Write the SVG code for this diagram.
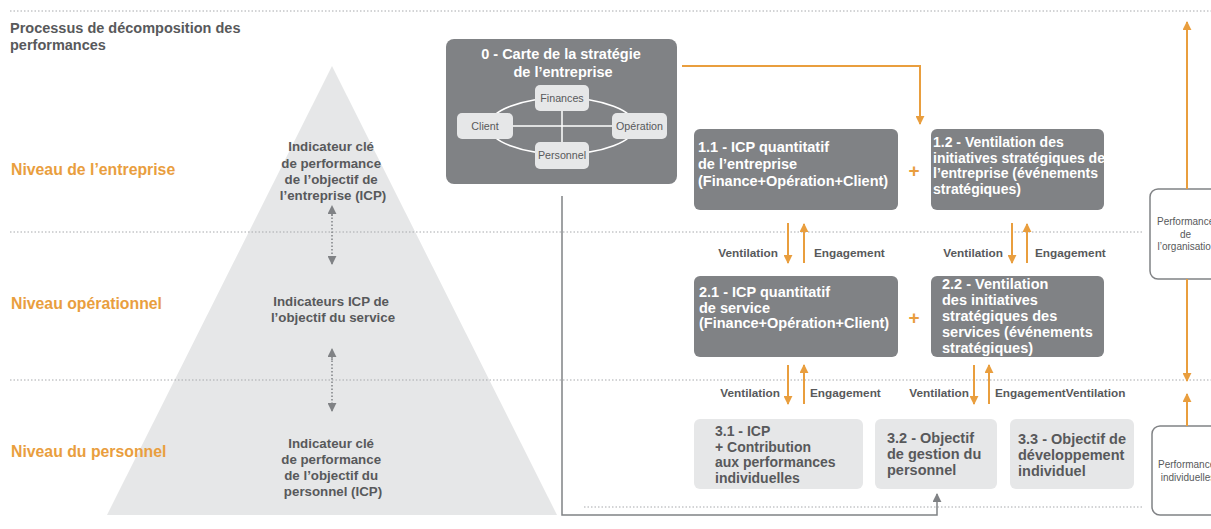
<svg xmlns="http://www.w3.org/2000/svg" width="1211" height="529" viewBox="0 0 1211 529">
<defs>
<style>
.t{font-family:"Liberation Sans",Arial,sans-serif;font-weight:bold;fill:#58595b}
.w{font-family:"Liberation Sans",Arial,sans-serif;font-weight:bold;fill:#ffffff}
.n{font-family:"Liberation Sans",Arial,sans-serif;fill:#58595b}
.lvl{font-family:"Liberation Sans",Arial,sans-serif;font-weight:bold;fill:#e99e3e;font-size:15.8px}
.dot{stroke:#a7a9ac;stroke-width:1;stroke-dasharray:1.5 2;fill:none}
.dark{fill:#808285}
.light{fill:#e6e7e8}
.or{stroke:#e99e3e;stroke-width:2;fill:none}
.gr{stroke:#808285;stroke-width:1.5;fill:none}
.gd{stroke:#808285;stroke-width:1.5;stroke-dasharray:1.5 2;fill:none}
.lab{font-family:"Liberation Sans",Arial,sans-serif;font-weight:bold;fill:#58595b;font-size:11.8px}
.plus{font-family:"Liberation Sans",Arial,sans-serif;font-weight:bold;fill:#e99e3e;font-size:19px}
</style>
<marker id="ao" viewBox="0 0 10 10" refX="9" refY="5" markerWidth="4.5" markerHeight="4.5" orient="auto"><path d="M0,0 L10,5 L0,10 Z" fill="#e99e3e"/></marker>
<marker id="ag" viewBox="0 0 10 10" refX="9" refY="5" markerWidth="6" markerHeight="6" orient="auto"><path d="M0,0 L10,5 L0,10 Z" fill="#808285"/></marker>
</defs>
<rect width="1211" height="529" fill="#ffffff"/>

<!-- pyramid -->
<g id="pyramid">
<polygon points="332,66 557,515 107,515" fill="#e6e7e8"/>
<text class="t" font-size="13.3" text-anchor="middle">
<tspan x="333" y="151">Indicateur clé</tspan>
<tspan x="333" y="167.5">de performance</tspan>
<tspan x="333" y="184">de l’objectif de</tspan>
<tspan x="333" y="200">l’entreprise (ICP)</tspan>
</text>
<text class="t" font-size="13.3" text-anchor="middle">
<tspan x="333" y="306">Indicateurs ICP de</tspan>
<tspan x="333" y="322">l’objectif du service</tspan>
</text>
<text class="t" font-size="13.3" text-anchor="middle">
<tspan x="333" y="448">Indicateur clé</tspan>
<tspan x="333" y="464">de performance</tspan>
<tspan x="333" y="480">de l’objectif du</tspan>
<tspan x="333" y="496">personnel (ICP)</tspan>
</text>
</g>

<!-- dotted level lines -->
<g id="gridlines">
<line class="dot" x1="10" y1="11" x2="1211" y2="11"/>
<line class="dot" x1="10" y1="232" x2="1144" y2="232"/>
<line class="dot" x1="10" y1="380" x2="1211" y2="380"/>
<line class="dot" x1="584" y1="507" x2="1144" y2="507"/>
</g>

<!-- title and level labels -->
<g id="title">
<text class="t" font-size="14.5" x="10" y="33">Processus de décomposition des</text>
<text class="t" font-size="14.5" x="10" y="50">performances</text>
</g>
<g id="levels">
<text class="lvl" x="11" y="175">Niveau de l’entreprise</text>
<text class="lvl" x="11" y="309">Niveau opérationnel</text>
<text class="lvl" x="11" y="457">Niveau du personnel</text>
</g>

<!-- card 0 -->
<g id="node0">
<rect class="dark" x="446" y="39" width="231" height="145" rx="8"/>
<text class="w" font-size="14.5" text-anchor="middle">
<tspan x="563" y="59">0 - Carte de la stratégie</tspan>
<tspan x="563" y="77">de l’entreprise</tspan>
</text>
<ellipse cx="562" cy="126" rx="73" ry="28" fill="none" stroke="#ffffff" stroke-width="1.5"/>
<line x1="485" y1="126" x2="640" y2="126" stroke="#ffffff" stroke-width="1.5"/>
<line x1="562" y1="98" x2="562" y2="155" stroke="#ffffff" stroke-width="1.5"/>
<rect class="light" x="535" y="85" width="54" height="26" rx="5"/>
<rect class="light" x="457" y="113" width="56" height="26" rx="5"/>
<rect class="light" x="612" y="113" width="55" height="26" rx="5"/>
<rect class="light" x="535" y="142" width="54" height="27" rx="5"/>
<text class="n" font-size="10.7" text-anchor="middle" x="562" y="101.5">Finances</text>
<text class="n" font-size="10.7" text-anchor="middle" x="485" y="129.5">Client</text>
<text class="n" font-size="10.7" text-anchor="middle" x="639.5" y="129.5">Opération</text>
<text class="n" font-size="10.7" text-anchor="middle" x="562" y="159">Personnel</text>
</g>

<!-- level 1 -->
<g id="node11">
<rect class="dark" x="694" y="129" width="204" height="81" rx="6"/>
<text class="w" font-size="14.5">
<tspan x="698" y="152">1.1 - ICP quantitatif</tspan>
<tspan x="698" y="169">de l’entreprise</tspan>
<tspan x="698" y="186">(Finance+Opération+Client)</tspan>
</text>
</g>
<g id="node12">
<rect class="dark" x="931" y="129" width="173" height="81" rx="6"/>
<text class="w" font-size="14">
<tspan x="933" y="147">1.2 - Ventilation des</tspan>
<tspan x="933" y="162.5">initiatives stratégiques de</tspan>
<tspan x="933" y="178">l’entreprise (événements</tspan>
<tspan x="933" y="194">stratégiques)</tspan>
</text>
</g>

<!-- level 2 -->
<g id="node21">
<rect class="dark" x="694" y="276" width="204" height="81" rx="6"/>
<text class="w" font-size="14.5">
<tspan x="699" y="297">2.1 - ICP quantitatif</tspan>
<tspan x="699" y="312.5">de service</tspan>
<tspan x="699" y="328">(Finance+Opération+Client)</tspan>
</text>
</g>
<g id="node22">
<rect class="dark" x="931" y="276" width="173" height="81" rx="6"/>
<text class="w" font-size="14.5">
<tspan x="942" y="289">2.2 - Ventilation</tspan>
<tspan x="942" y="305">des initiatives</tspan>
<tspan x="942" y="321">stratégiques des</tspan>
<tspan x="942" y="337">services (événements</tspan>
<tspan x="942" y="353">stratégiques)</tspan>
</text>
</g>

<!-- plus signs -->
<g id="plus">
<text class="plus" x="914" y="177" text-anchor="middle">+</text>
<text class="plus" x="914" y="324" text-anchor="middle">+</text>
</g>

<!-- level 3 -->
<g id="node31">
<rect class="light" x="694" y="419" width="169" height="70" rx="6"/>
<text class="t" font-size="14">
<tspan x="715" y="436">3.1 - ICP</tspan>
<tspan x="715" y="451.5">+ Contribution</tspan>
<tspan x="715" y="467">aux performances</tspan>
<tspan x="715" y="483">individuelles</tspan>
</text>
</g>
<g id="node32">
<rect class="light" x="875" y="419" width="122" height="70" rx="6"/>
<text class="t" font-size="14.5">
<tspan x="887" y="443">3.2 - Objectif</tspan>
<tspan x="887" y="459">de gestion du</tspan>
<tspan x="887" y="475">personnel</tspan>
</text>
</g>
<g id="node33">
<rect class="light" x="1010" y="419" width="124" height="70" rx="6"/>
<text class="t" font-size="14.5">
<tspan x="1018" y="444">3.3 - Objectif de</tspan>
<tspan x="1018" y="460">développement</tspan>
<tspan x="1018" y="476">individuel</tspan>
</text>
</g>

<!-- right side boxes -->
<g id="orgPerf">
<rect x="1150" y="189" width="74" height="90" rx="8" fill="#ffffff" stroke="#808285" stroke-width="1.5"/>
<text class="n" font-size="10" text-anchor="middle">
<tspan x="1187" y="225">Performance</tspan>
<tspan x="1187" y="237.5">de</tspan>
<tspan x="1187" y="250">l’organisation</tspan>
</text>
</g>
<g id="indPerf">
<rect x="1152" y="426" width="72" height="89" rx="8" fill="#ffffff" stroke="#808285" stroke-width="1.5"/>
<text class="n" font-size="10" text-anchor="middle">
<tspan x="1188" y="468">Performance</tspan>
<tspan x="1188" y="481">individuelles</tspan>
</text>
</g>

<!-- connectors -->
<g id="connectors">
<polyline class="or" points="682,66 920,66 920,124" marker-end="url(#ao)"/>
<line class="or" x1="788" y1="223" x2="788" y2="263" marker-end="url(#ao)"/>
<line class="or" x1="804" y1="263" x2="804" y2="224" marker-end="url(#ao)"/>
<line class="or" x1="1012" y1="223" x2="1012" y2="263" marker-end="url(#ao)"/>
<line class="or" x1="1027" y1="263" x2="1027" y2="224" marker-end="url(#ao)"/>
<line class="or" x1="788" y1="365" x2="788" y2="404" marker-end="url(#ao)"/>
<line class="or" x1="804" y1="404" x2="804" y2="365" marker-end="url(#ao)"/>
<line class="or" x1="974" y1="365" x2="974" y2="404" marker-end="url(#ao)"/>
<line class="or" x1="989" y1="404" x2="989" y2="365" marker-end="url(#ao)"/>
<line class="or" x1="1187" y1="189" x2="1187" y2="22" marker-end="url(#ao)"/>
<line class="or" x1="1187" y1="279" x2="1187" y2="381" marker-end="url(#ao)"/>
<line class="or" x1="1187" y1="426" x2="1187" y2="394" marker-end="url(#ao)"/>
<polyline class="gr" points="562,196 562,515 937,515 937,494" marker-end="url(#ag)"/>
<line class="gd" x1="332" y1="216" x2="332" y2="206" marker-end="url(#ag)"/>
<line class="gd" x1="332" y1="214" x2="332" y2="264" marker-end="url(#ag)"/>
<line class="gd" x1="332" y1="360" x2="332" y2="349" marker-end="url(#ag)"/>
<line class="gd" x1="332" y1="357" x2="332" y2="411" marker-end="url(#ag)"/>
</g>

<!-- connector labels -->
<g id="labels">
<text class="lab" x="778" y="257" text-anchor="end">Ventilation</text>
<text class="lab" x="814" y="257">Engagement</text>
<text class="lab" x="1003" y="257" text-anchor="end">Ventilation</text>
<text class="lab" x="1035" y="257">Engagement</text>
<text class="lab" x="780" y="397" text-anchor="end">Ventilation</text>
<text class="lab" x="810" y="397">Engagement</text>
<text class="lab" x="969" y="397" text-anchor="end">Ventilation</text>
<text class="lab" x="995" y="397">EngagementVentilation</text>
</g>
</svg>
